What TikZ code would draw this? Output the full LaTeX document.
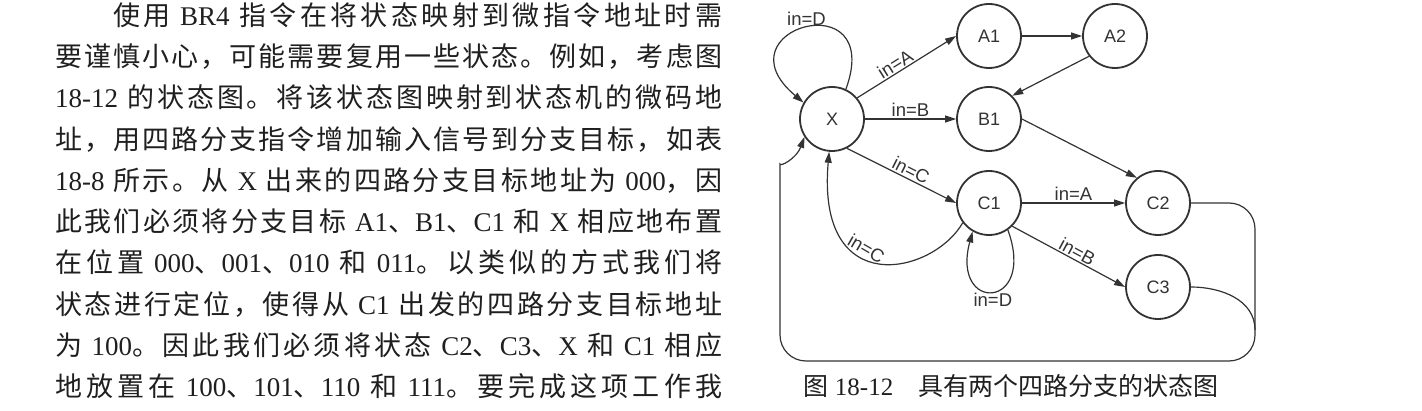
\documentclass[tikz,border=0pt]{standalone}
\usepackage{fontspec}
\setmainfont{Liberation Serif}
\newfontfamily\cjkfont{Noto Sans CJK SC}
\newfontfamily\latfont{Liberation Serif}
\newfontfamily\diagfont{Liberation Sans}
\usetikzlibrary{positioning,arrows.meta}

% switch to the CJK font and back inside mixed text
\XeTeXinterchartokenstate=1
\chardef\cjkcls=9
\newcount\cjkcnt
\def\setcjkrange#1#2{\cjkcnt=#1\relax
  \loop\XeTeXcharclass\cjkcnt=\cjkcls
  \ifnum\cjkcnt<#2\advance\cjkcnt by 1\repeat}
\setcjkrange{"3000}{"303F}
\setcjkrange{"4E00}{"9FFF}
\setcjkrange{"FF00}{"FFEF}
\XeTeXinterchartoks 0 \cjkcls = {\cjkfont}
\XeTeXinterchartoks 4095 \cjkcls = {\cjkfont}
\XeTeXinterchartoks \cjkcls 0 = {\latfont}
\XeTeXinterchartoks \cjkcls 4095 = {\latfont}
\XeTeXinterchartoks \cjkcls \cjkcls = {\hskip 0pt plus 4pt}

\definecolor{ink}{gray}{0.2}
\definecolor{prose}{gray}{0.12}

\begin{document}
\begin{tikzpicture}[
  x=1pt, y=1pt,
  >={Triangle[length=11pt,width=7pt]},
  state/.style={circle, draw=ink, line width=1.8pt, minimum size=64pt, inner sep=0pt, text=ink, font=\diagfont\fontsize{18}{18}\selectfont},
  edge/.style={->, draw=ink, line width=1.2pt},
  lbl/.style={inner sep=1.5pt, text=ink, font=\diagfont\fontsize{18.5}{18.5}\selectfont},
  body/.style={anchor=base west, inner sep=0pt, text=prose, font=\fontsize{27}{41}\selectfont}
]
  \useasboundingbox (0,0) rectangle (1422,-411);

  % paragraph
  \node[body] (l1) at (113,-26) {\makebox[609pt][s]{使用 BR4 指令在将状态映射到微指令地址时需}};
  \node[body] (l2) at (55,-67) {\makebox[667pt][s]{要谨慎小心，可能需要复用一些状态。例如，考虑图}};
  \node[body] (l3) at (55,-108) {\makebox[667pt][s]{18-12 的状态图。将该状态图映射到状态机的微码地}};
  \node[body] (l4) at (55,-150) {\makebox[667pt][s]{址，用四路分支指令增加输入信号到分支目标，如表}};
  \node[body] (l5) at (55,-191) {\makebox[667pt][s]{18-8 所示。从 X 出来的四路分支目标地址为 000，因}};
  \node[body] (l6) at (55,-232) {\makebox[667pt][s]{此我们必须将分支目标 A1、B1、C1 和 X 相应地布置}};
  \node[body] (l7) at (55,-273) {\makebox[667pt][s]{在位置 000、001、010 和 011。以类似的方式我们将}};
  \node[body] (l8) at (55,-315) {\makebox[667pt][s]{状态进行定位，使得从 C1 出发的四路分支目标地址}};
  \node[body] (l9) at (55,-356) {\makebox[667pt][s]{为 100。因此我们必须将状态 C2、C3、X 和 C1 相应}};
  \node[body] (l10) at (55,-397) {\makebox[667pt][s]{地放置在 100、101、110 和 111。要完成这项工作我}};

  % states
  \node[state] (X) at (832,-119) {X};
  \node[state] (A1) at (989,-36) {A1};
  \node[state] (A2) at (1115,-36) {A2};
  \node[state] (B1) at (989,-119) {B1};
  \node[state] (C1) at (989,-203) {C1};
  \node[state] (C2) at (1158,-203) {C2};
  \node[state] (C3) at (1158,-287) {C3};

  \coordinate (br) at (1255,-361);
  \coordinate (bl) at (780,-361);
  \coordinate (tl) at (780,-190);
  \coordinate (m3) at (1255,-330);

  % transitions
  \draw[edge] (X.65) to[out=70, in=140, out distance=115pt, in distance=115pt] node[lbl, above] {in=D} (X.150);
  \draw[edge] (X.40) -- node[lbl, above, sloped, pos=0.43] {in=A} (A1.west);
  \draw[edge] (X) -- node[lbl, above] {in=B} (B1);
  \draw[edge] (X.-63) -- node[lbl, above, sloped, pos=0.55] {in=C} (C1.west);
  \draw[edge] (A1) -- (A2);
  \draw[edge] (A2.218) -- (B1.45);
  \draw[edge] (B1.east) -- (C2.130);
  \draw[edge] (C1) -- node[lbl, above] {in=A} (C2);
  \draw[edge] (C1.-45) -- node[lbl, above, sloped, pos=0.54] {in=B} (C3.west);
  \draw[edge] (C1.305) to[out=290, in=255, out distance=85pt, in distance=85pt] node[lbl, below] {in=D} (C1.240);
  \draw[edge] (C1.217) to[out=240, in=265, out distance=60pt, in distance=150pt] node[lbl, above, sloped, pos=0.6] {in=C} (X.265);
  \draw[edge, rounded corners=26pt] (C2.east) -| (br) -- (bl) -- (tl) to[out=90, in=250] (X.213);
  \draw[draw=ink, line width=1.2pt] (C3.east) to[out=0, in=90] (m3);

  % caption
  \node[anchor=base, inner sep=0pt, text=prose, font=\fontsize{25}{25}\selectfont] (cap) at (1011,-396) {图 18-12\quad 具有两个四路分支的状态图};
\end{tikzpicture}
\end{document}
